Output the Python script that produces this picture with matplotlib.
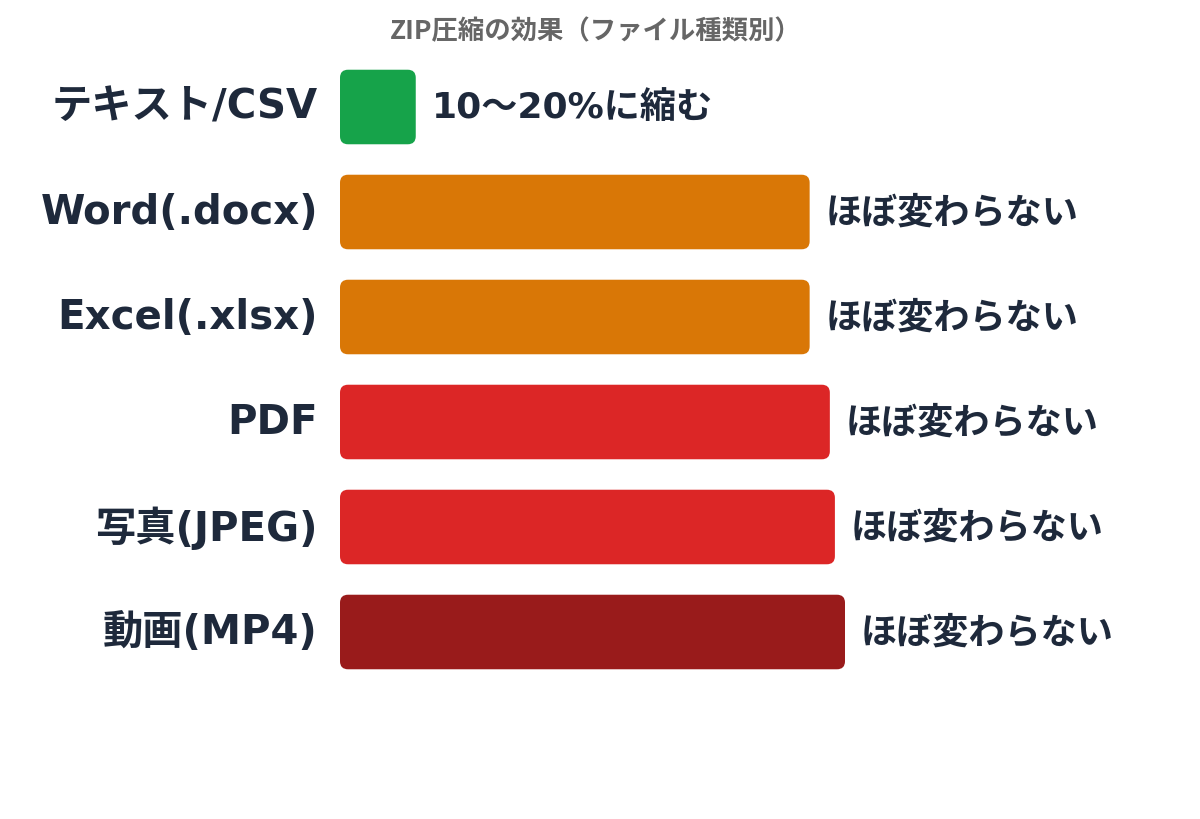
import matplotlib
matplotlib.use("Agg")
import matplotlib.pyplot as plt
from matplotlib.patches import FancyBboxPatch

plt.rcParams['font.family'] = ['Noto Sans CJK JP', 'DejaVu Sans']
mixed = ['DejaVu Sans', 'Noto Sans CJK JP']  # wide bold latin, CJK fallback

# data
categories = ['テキスト/CSV', 'Word(.docx)', 'Excel(.xlsx)', 'PDF', '写真(JPEG)', '動画(MP4)']
sizes = [15, 93, 93, 97, 98, 100]  # size after zip, % of original (approx)
notes = ['10〜20%に縮む', 'ほぼ変わらない', 'ほぼ変わらない', 'ほぼ変わらない',
         'ほぼ変わらない', 'ほぼ変わらない']
colors = ['#16a34a', '#d97706', '#d97706', '#dc2626', '#dc2626', '#991b1b']
title = 'ZIP圧縮の効果（ファイル種類別）'

W, H = 1200, 820
fig = plt.figure(figsize=(W / 100, H / 100), dpi=100)
ax = fig.add_axes([340 / W, 1 - 685.5 / H, 505 / W, 630 / H])

ypos = list(range(len(categories)))
bars = ax.barh(ypos, sizes, height=0.71, color=colors)
ax.set_xlim(0, 100)
ax.set_ylim(len(categories) - 0.5, -0.5)
ax.axis('off')

# swap plain bars for rounded ones
px_x = 505 / 100
px_y = 105
r = 8 / px_x
for b in bars:
    b.set_visible(False)
    p = FancyBboxPatch((b.get_x(), b.get_y()), b.get_width(), b.get_height(),
                       boxstyle=f"round,pad=0,rounding_size={r}",
                       mutation_aspect=(8 / px_y) / r,
                       facecolor=b.get_facecolor(), edgecolor='none')
    ax.add_patch(p)

for i, (cat, v, note) in enumerate(zip(categories, sizes, notes)):
    ax.annotate(cat, xy=(0, i), xytext=(-22, 0), textcoords='offset pixels',
                ha='right', va='center', fontsize=29, fontweight='bold',
                family=mixed, color='#1e293b', annotation_clip=False)
    ax.annotate(note, xy=(v, i), xytext=(16, 0), textcoords='offset pixels',
                ha='left', va='center', fontsize=26, fontweight='bold',
                family=mixed, color='#1e293b', annotation_clip=False)

fig.text(596 / W, 1 - 32 / H, title, ha='center', va='center',
         fontsize=19, fontweight='bold', color='#666666')

fig.savefig('out.png', dpi=100, facecolor='white')
